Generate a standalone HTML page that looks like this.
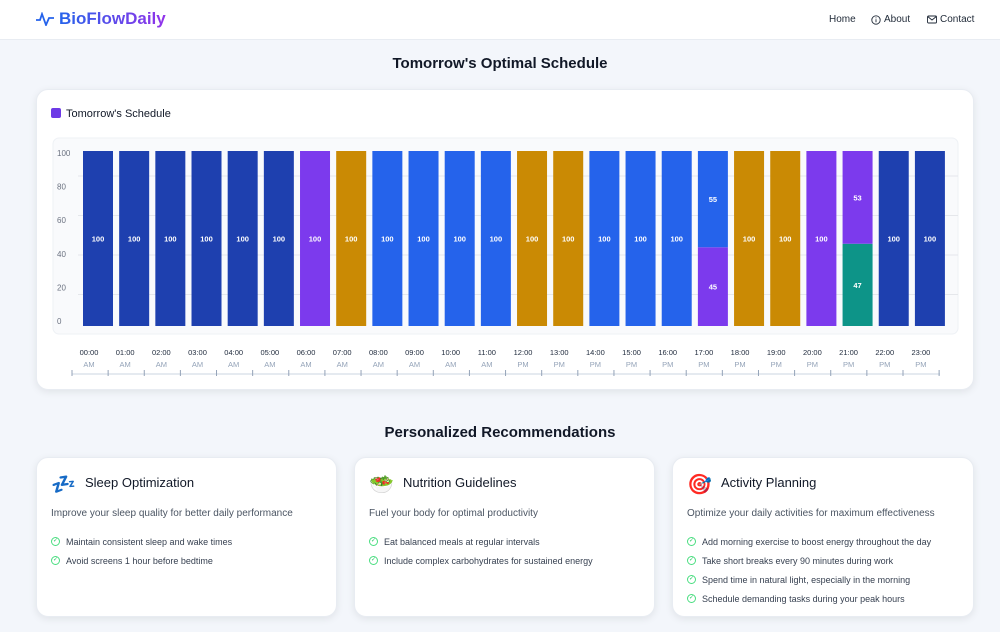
<!DOCTYPE html>
<html><head><meta charset="utf-8">
<style>
*{box-sizing:border-box;margin:0;padding:0}
body{width:1000px;height:632px;overflow:hidden;background:#f3f6fb;font-family:"Liberation Sans","DejaVu Sans",sans-serif;position:relative;color:#111827}
.hdr{position:absolute;left:0;top:0;width:1000px;height:40px;background:#fff;border-bottom:1px solid #e8ecf2}
.logo{position:absolute;left:36px;top:9px;font-weight:bold;font-size:17px;color:#4f46e5;display:flex;align-items:center;gap:5px}
.logo span{background:linear-gradient(90deg,#2563eb,#9333ea);-webkit-background-clip:text;color:transparent}
.nav{position:absolute;top:14px;font-size:10px;color:#1f2937;display:flex;align-items:center;gap:3px;height:11px}
h2{position:absolute;left:0;width:1000px;text-align:center;font-size:15px;font-weight:bold;color:#111827}
.card{position:absolute;background:#fff;border-radius:12px;box-shadow:0 2px 8px rgba(0,0,0,.08);border:1px solid #e8ecf2}
.rt{position:absolute;left:48px;top:17px;font-size:13px;color:#111827}
.ic{position:absolute;left:14px;top:14px;font-size:20px}
.sub{position:absolute;left:14px;top:50px;font-size:10px;color:#4b5563}
ul{position:absolute;left:14px;top:74px;list-style:none}
li{font-size:9px;color:#374151;height:19px;display:flex;align-items:center;gap:6px}
li i{display:inline-block;width:9px;height:9px;border:1.5px solid #4ade80;border-radius:50%;font-style:normal;font-size:6px;color:#22c55e;line-height:6px;text-align:center}
</style></head><body>
<div class="hdr">
  <div class="logo"><svg width="18" height="14" viewBox="0 0 18 14"><path d="M0 8h4l2-6 4 11 3-7h5" fill="none" stroke="#2563eb" stroke-width="1.8"/></svg><span>BioFlowDaily</span></div>
  <div class="nav" style="left:829px">Home</div>
  <div class="nav" style="left:871px"><svg width="10" height="10" viewBox="0 0 10 10"><circle cx="5" cy="5" r="4.2" fill="none" stroke="#1f2937" stroke-width=".9"/><line x1="5" y1="4.3" x2="5" y2="7.3" stroke="#1f2937" stroke-width=".9"/><circle cx="5" cy="2.9" r=".5" fill="#1f2937"/></svg>About</div>
  <div class="nav" style="left:927px"><svg width="10" height="9" viewBox="0 0 10 9"><rect x=".5" y="1" width="9" height="7" rx="1" fill="none" stroke="#1f2937" stroke-width=".9"/><path d="M.8 1.6 5 5l4.2-3.4" fill="none" stroke="#1f2937" stroke-width=".9"/></svg>Contact</div>
</div>
<h2 style="top:55px">Tomorrow's Optimal Schedule</h2>
<div class="card" style="left:36px;top:89px;width:938px;height:301px"></div>
<svg id="chart" width="1000" height="632" style="position:absolute;left:0;top:0"></svg>
<h2 style="top:424px">Personalized Recommendations</h2>

<div class="card" style="left:36px;top:457px;width:301px;height:160px">
 <div class="ic">💤</div><div class="rt">Sleep Optimization</div>
 <div class="sub">Improve your sleep quality for better daily performance</div>
 <ul><li><i>✓</i>Maintain consistent sleep and wake times</li><li><i>✓</i>Avoid screens 1 hour before bedtime</li></ul>
</div>
<div class="card" style="left:354px;top:457px;width:301px;height:160px">
 <div class="ic">🥗</div><div class="rt">Nutrition Guidelines</div>
 <div class="sub">Fuel your body for optimal productivity</div>
 <ul><li><i>✓</i>Eat balanced meals at regular intervals</li><li><i>✓</i>Include complex carbohydrates for sustained energy</li></ul>
</div>
<div class="card" style="left:672px;top:457px;width:302px;height:160px">
 <div class="ic">🎯</div><div class="rt">Activity Planning</div>
 <div class="sub">Optimize your daily activities for maximum effectiveness</div>
 <ul><li><i>✓</i>Add morning exercise to boost energy throughout the day</li><li><i>✓</i>Take short breaks every 90 minutes during work</li><li><i>✓</i>Spend time in natural light, especially in the morning</li><li><i>✓</i>Schedule demanding tasks during your peak hours</li></ul>
</div>

<script>
const hours=["00:00","01:00","02:00","03:00","04:00","05:00","06:00","07:00","08:00","09:00","10:00","11:00","12:00","13:00","14:00","15:00","16:00","17:00","18:00","19:00","20:00","21:00","22:00","23:00"];
const periods=["AM","AM","AM","AM","AM","AM","AM","AM","AM","AM","AM","AM","PM","PM","PM","PM","PM","PM","PM","PM","PM","PM","PM","PM"];
const recovery=[0,0,0,0,0,0,0,0,0,0,0,0,0,0,0,0,0,0,0,0,0,47,0,0];
const transition=[0,0,0,0,0,0,100,0,0,0,0,0,0,0,0,0,0,45,0,0,100,53,0,0];
const focus=[0,0,0,0,0,0,0,0,100,100,100,100,0,0,100,100,100,55,0,0,0,0,0,0];
const meals=[0,0,0,0,0,0,0,100,0,0,0,0,100,100,0,0,0,0,100,100,0,0,0,0];
const sleep=[100,100,100,100,100,100,0,0,0,0,0,0,0,0,0,0,0,0,0,0,0,0,100,100];
const yTicks=[0,20,40,60,80,100];
const series=[[recovery,"#0d9488"],[transition,"#7c3aed"],[focus,"#2563eb"],[meals,"#ca8a04"],[sleep,"#1e40af"]];
const svg=document.getElementById('chart');const NS="http://www.w3.org/2000/svg";
function mk(t,a,txt){const e=document.createElementNS(NS,t);for(const k in a)e.setAttribute(k,a[k]);if(txt!==undefined)e.textContent=txt;svg.appendChild(e);return e;}
const x=i=>98+36.17*i, y=v=>326-1.75*v, gy=v=>334-1.975*v, ly=v=>321-1.68*v;
let e=mk('rect',{x:51,y:108,width:10,height:10,rx:2,fill:"#6d3ae6"});
e=mk('text',{x:66,y:117,'font-size':11,fill:"#111827"},"Tomorrow's Schedule");
e=mk('rect',{x:53,y:138,width:905,height:196,rx:6,fill:"#f9fafc",stroke:"#eef1f5"});
yTicks.forEach(v=>{
 if(v>0&&v<100){e=mk('line',{x1:78,x2:958,y1:gy(v),y2:gy(v),stroke:"#e5e7eb"});}
 e=mk('text',{x:57,y:ly(v)+3,'font-size':8,fill:"#6b7280"},v);
});
hours.forEach((h,i)=>{
 let base=0;
 series.forEach(([arr,col])=>{const v=arr[i];if(!v)return;
  let r=mk('rect',{x:x(i)-15,y:y(base+v),width:30,height:1.75*v,fill:col});
  
  let t=mk('text',{x:x(i),y:y(base+v/2)+3,'font-size':7.5,'font-weight':'bold',fill:"#fff",'text-anchor':'middle'},v);
  
  base+=v;});
 let t=mk('text',{x:x(i)-9,y:355,'font-size':7.5,fill:"#1e293b",'text-anchor':'middle'},h);
 t=mk('text',{x:x(i)-9,y:367,'font-size':7.5,fill:"#94a3b8",'text-anchor':'middle'},periods[i]);
});
e=mk('line',{x1:72,x2:940,y1:374,y2:374,stroke:"#cbd5e1"});
for(let i=0;i<=hours.length;i++){e=mk('line',{x1:72+36.13*i,x2:72+36.13*i,y1:370,y2:376,stroke:"#94a3b8"});}
</script>
</body></html>
